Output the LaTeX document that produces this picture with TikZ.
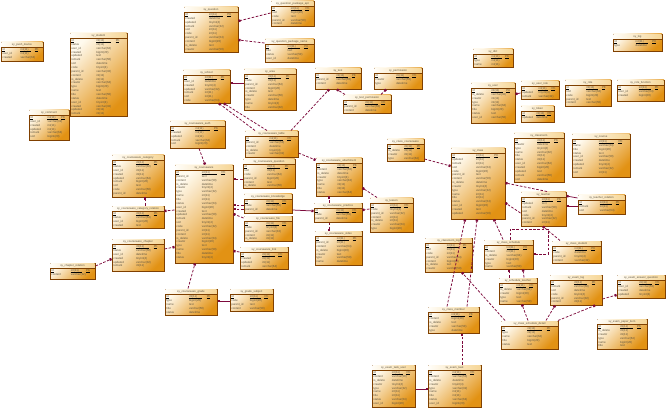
\documentclass[tikz,border=0pt]{standalone}
\usepackage{fontspec}
\setmainfont{Liberation Sans}
\usetikzlibrary{calc,arrows.meta,shadows}
\definecolor{brd}{RGB}{128,64,0}
\definecolor{fillL}{RGB}{255,250,238}
\definecolor{fillD}{RGB}{226,146,20}
\definecolor{hdrL}{RGB}{255,253,248}
\definecolor{hdrR}{RGB}{246,214,150}
\definecolor{txt}{RGB}{95,85,65}
\definecolor{relc}{RGB}{125,10,60}
\tikzset{
  tblbox/.style={draw=brd, line width=0.9pt, top color=fillL, bottom color=fillD, shading angle=45,
    inner sep=0pt, outer sep=0pt,
    drop shadow={shadow xshift=0.9pt,shadow yshift=-0.9pt,fill=black,opacity=0.25}},
  ttl/.style={inner sep=0pt, font=\fontsize{2.8}{3}\selectfont, text=txt},
  fldtxt/.style={anchor=base west, inner sep=0pt, font=\fontsize{2.9}{3}\selectfont, text=txt},
  keybar/.style={black, line width=0.55pt},
  rel/.style={draw=relc, line width=0.75pt, dash pattern=on 2.6pt off 1.6pt, -{Square[length=2pt,width=2.4pt]}},
  relsolid/.style={draw=relc, line width=0.75pt, -{Square[length=2pt,width=2.4pt]}}
}
\newcommand{\fld}[1]{\ifcase#1 name\or title\or status\or user\_id\or created\or updated\or remark\or sort\or code\or parent\_id\or content\or is\_delete\or creator\or type\fi}
\newcommand{\typ}[1]{\ifcase#1 varchar(50)\or int(11)\or datetime\or varchar(64)\or tinyint(4)\or bigint(20)\or varchar(32)\or text\or int(11)\fi}
\newcommand{\tbl}[6]{%
  \node[tblbox, minimum width=#4pt, minimum height=#5pt, anchor=north west] (#1) at (#2,#3) {};
  \shade[left color=hdrL,right color=hdrR] ($(#1.north west)+(0.45,0.45)$) rectangle ($(#1.north east)+(-0.45,5.3)$);
  \draw[brd, line width=0.7pt] ($(#1.north west)+(0,5.3)$) -- ($(#1.north east)+(0,5.3)$);
  \node[ttl] at ($(#1.north)+(0,2.8)$) {#6};
  \node[fldtxt] at ($(#1.north west)+(1.2,8.6)$) {id};
  \node[fldtxt] at ($(#1.north west)+({0.46*#4},8.6)$) {int(11)};
  \node[fldtxt] at ($(#1.north west)+({0.8*#4},8.6)$) {PK};
  \draw[keybar] ($(#1.north west)+(1.2,9.4)$) -- +(2.4,0);
  \draw[keybar] ($(#1.north west)+({0.46*#4},9.4)$) -- +({0.26*#4},0);
  \draw[keybar] ($(#1.north west)+({0.8*#4},9.4)$) -- +(3.6,0);
  \pgfmathtruncatemacro\nr{max(1,floor((#5-9.5)/3.85)+1)}%
  \ifnum\nr>1
    \foreach \i in {2,...,\nr}{%
      \pgfmathtruncatemacro\k{mod(\i+#2,14)}%
      \pgfmathtruncatemacro\m{mod(\i*2+#3,9)}%
      \node[fldtxt] at ($(#1.north west)+(1.2,{4.75+3.85*\i})$) {\fld{\k}};
      \node[fldtxt] at ($(#1.north west)+({0.46*#4},{4.75+3.85*\i})$) {\typ{\m}};
    }%
  \fi
}
\newcommand{\cn}[5][rel]{\draw[#1] ($(#2.north west)+(#3)$) -- ($(#4.north west)+(#5)$);}
\begin{document}
\begin{tikzpicture}[x=1pt,y=-1pt]
\fill[white] (0,0) rectangle (667,409);
\useasboundingbox (0,0) rectangle (667,409);
\tbl{t1}{1}{42}{42}{19}{sy\_push\_device}
\tbl{t2}{70}{33}{57}{83}{sy\_student}
\tbl{t3}{29}{110}{40}{30}{sy\_comment}
\tbl{t4}{184}{7}{54}{45}{sy\_question}
\tbl{t5}{271}{1}{43}{25}{sy\_question\_package\_apt}
\tbl{t6}{265}{39}{49}{23}{sy\_question\_package\_name}
\tbl{t7}{183}{70}{47}{33}{sy\_school}
\tbl{t8}{244}{69}{52}{41}{sy\_area}
\tbl{t9}{315}{68}{46}{21}{sy\_test}
\tbl{t10}{374}{68}{48}{21}{sy\_permission}
\tbl{t11}{343}{95}{48}{18}{sy\_test\_permission}
\tbl{t12}{473}{49}{40}{18}{sy\_dict}
\tbl{t13}{471}{83}{44}{40}{sy\_user}
\tbl{t14}{613}{34}{49}{17}{sy\_log}
\tbl{t15}{521}{81}{38}{18}{sy\_user\_role}
\tbl{t16}{565}{80}{46}{26}{sy\_role}
\tbl{t17}{617}{80}{47}{21}{sy\_role\_function}
\tbl{t18}{521}{106}{33}{16}{sy\_token}
\tbl{t19}{514}{133}{50}{49}{sy\_classroom}
\tbl{t20}{572}{134}{58}{43}{sy\_course}
\tbl{t21}{112}{155}{52}{42}{sy\_courseware\_category}
\tbl{t22}{112}{206}{52}{22}{sy\_courseware\_category\_relation}
\tbl{t23}{112}{239}{52}{32}{sy\_courseware\_chapter}
\tbl{t24}{50}{263}{45}{16}{sy\_chapter\_relation}
\tbl{t25}{175}{165}{58}{98}{sy\_courseware}
\tbl{t26}{170}{121}{55}{27}{sy\_courseware\_auth}
\tbl{t27}{245}{131}{53}{26}{sy\_courseware\_table}
\tbl{t28}{243}{159}{52}{29}{sy\_courseware\_question}
\tbl{t29}{244}{194}{48}{19}{sy\_courseware\_knowledge}
\tbl{t30}{244}{216}{48}{25}{sy\_courseware\_file}
\tbl{t31}{240}{247}{48}{22}{sy\_courseware\_link}
\tbl{t32}{316}{158}{46}{38}{sy\_courseware\_attachment}
\tbl{t33}{314}{203}{48}{19}{sy\_courseware\_practice}
\tbl{t34}{315}{231}{47}{34}{sy\_courseware\_video}
\tbl{t35}{387}{139}{37}{22}{sy\_class\_courseware}
\tbl{t36}{370}{198}{43}{34}{sy\_lesson}
\tbl{t37}{451}{148}{54}{71}{sy\_class}
\tbl{t38}{425}{238}{47}{34}{sy\_classroom\_log}
\tbl{t39}{484}{240}{49}{29}{sy\_class\_schedule}
\tbl{t40}{521}{192}{45}{34}{sy\_teacher}
\tbl{t41}{578}{195}{47}{19}{sy\_teacher\_relation}
\tbl{t42}{552}{241}{49}{22}{sy\_class\_student}
\tbl{t43}{165}{289}{52}{26}{sy\_courseware\_grade}
\tbl{t44}{230}{289}{43}{22}{sy\_grade\_subject}
\tbl{t45}{428}{307}{51}{26}{sy\_class\_member}
\tbl{t46}{372}{365}{43}{42}{sy\_exam\_task\_user}
\tbl{t47}{428}{365}{53}{42}{sy\_exam\_task}
\tbl{t48}{499}{278}{38}{26}{sy\_schedule\_teacher}
\tbl{t49}{550}{275}{52}{30}{sy\_exam\_log}
\tbl{t50}{617}{275}{48}{23}{sy\_exam\_answer\_question}
\tbl{t51}{501}{321}{57}{28}{sy\_class\_schedule\_detail}
\tbl{t52}{597}{319}{50}{30}{sy\_exam\_paper\_item}
% connectors
\cn{t5}{-0.5,12}{t4}{54.5,14}
\cn{t6}{-0.5,4}{t4}{54.5,33}
\cn[relsolid]{t8}{-0.5,14}{t7}{47.5,13}
\cn{t27}{10,-0.5}{t7}{36,33.5}
\cn{t27}{22,-0.5}{t7}{41,33.5}
\cn{t27}{46,-0.5}{t9}{14,21.5}
\cn{t11}{2,-0.5}{t9}{22,21.5}
\cn{t11}{38,-0.5}{t10}{12,21.5}
\cn[relsolid]{t15}{-0.5,12}{t13}{44.5,11}
\cn{t22}{33,-0.5}{t21}{33,42.5}
\cn{t25}{-0.5,45}{t22}{52.5,5}
\cn{t24}{45.5,3}{t23}{-0.5,20}
\cn{t23}{52.5,10}{t25}{-0.5,82}
\cn{t26}{29,27.5}{t25}{30,-0.5}
\cn{t28}{-0.5,20}{t25}{58.5,14}
\cn{t29}{-0.5,11}{t25}{58.5,40}
\cn{t29}{-0.5,15}{t25}{58.5,44}
\cn{t30}{-0.5,2}{t25}{58.5,49}
\cn{t31}{-0.5,5}{t25}{58.5,86}
\cn{t43}{23,-0.5}{t25}{20,98.5}
\cn[relsolid]{t29}{48.5,16}{t33}{-0.5,8}
\cn{t27}{53.5,22}{t32}{-0.5,2}
\cn{t33}{15,-0.5}{t32}{13,38.5}
\cn{t33}{15,19.5}{t34}{14,-0.5}
\cn{t36}{7,-0.5}{t32}{46.5,30}
\cn{t36}{-0.5,11}{t33}{48.5,7}
\cn{t35}{37.5,20}{t37}{-0.5,18}
\cn{t45}{19,-0.5}{t37}{14,71.5}
\cn{t45}{39,-0.5}{t37}{26,71.5}
\cn{t39}{19,-0.5}{t37}{43,71.5}
\draw[rel] ($(t39.north west)+(26,-0.5)$) -- ($(t39.north west)+(26,-11)$) -- ($(t39.north west)+(64,-11)$) -- ($(t39.north west)+(64,14)$) -- ($(t39.north west)+(49.5,14)$);
\cn{t42}{8,-0.5}{t40}{22,34.5}
\cn{t40}{26,-0.5}{t37}{54.5,35}
\cn{t40}{-0.5,21}{t37}{54.5,55}
\cn[relsolid]{t41}{-0.5,3}{t40}{45.5,4}
\cn[relsolid]{t41}{-0.5,11}{t40}{45.5,14}
\cn{t51}{4,-0.5}{t38}{37,34.5}
\cn{t47}{34,-0.5}{t45}{34,26.5}
\cn[relsolid]{t46}{43.5,24}{t47}{-0.5,24}
\cn[relsolid]{t44}{-0.5,12}{t43}{52.5,12}
\cn{t48}{10,-0.5}{t39}{25,29.5}
\cn{t48}{25,-0.5}{t39}{39,29.5}
\cn{t51}{27,-0.5}{t48}{23,26.5}
\cn{t51}{45,-0.5}{t49}{5,30.5}
\cn{t51}{57,-0.5}{t49}{45,30.5}
\cn{t49}{52.5,24}{t50}{-0.5,20}
\end{tikzpicture}
\end{document}
